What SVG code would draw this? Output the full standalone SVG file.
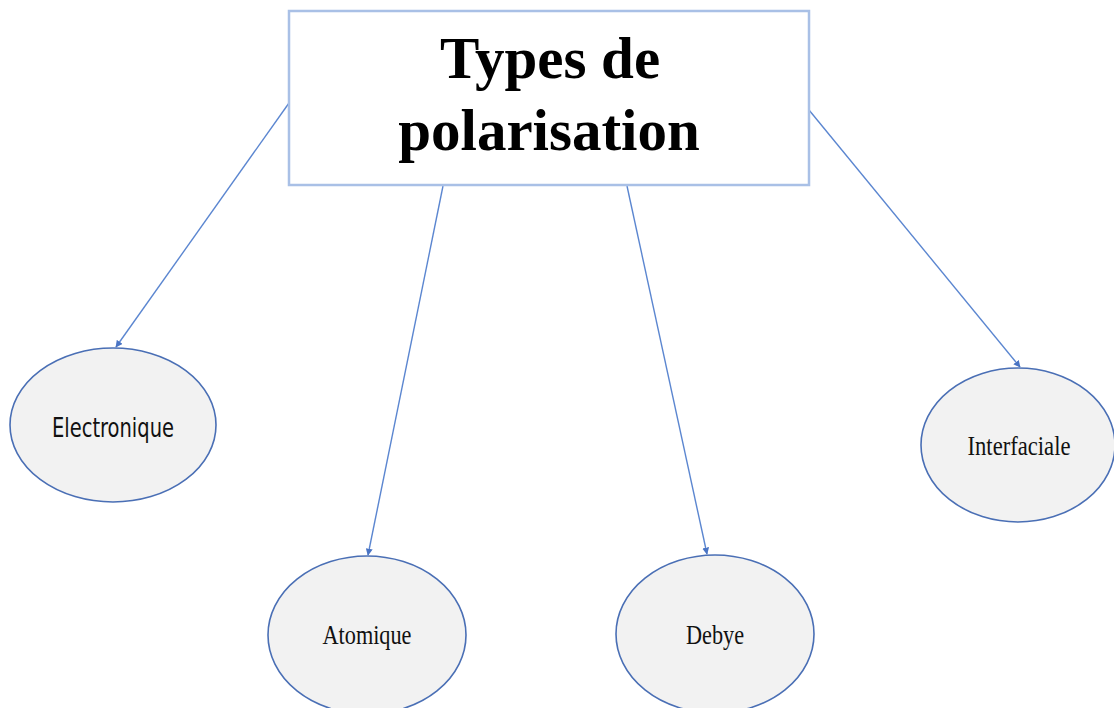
<svg xmlns="http://www.w3.org/2000/svg" width="1114" height="708" viewBox="0 0 1114 708">
<style>
.box{fill:#ffffff;stroke:#a9c0e6;stroke-width:2.5}
.title{font-family:"Liberation Serif",serif;font-weight:bold;font-size:59px;fill:#000;text-anchor:middle}
.ell{fill:#f2f2f2;stroke:#4a6fb5;stroke-width:1.6}
.lbl{font-family:"Liberation Serif",serif;font-size:28px;fill:#111;text-anchor:middle}
.lbls{font-family:"DejaVu Sans Condensed","DejaVu Sans",sans-serif;font-size:27px;fill:#111;text-anchor:middle}
.conn{stroke:#5b86d0;stroke-width:1.4;fill:none;marker-end:url(#ah)}
</style>
<defs>
<marker id="ah" viewBox="0 0 10 10" refX="9" refY="5" markerWidth="7" markerHeight="7" markerUnits="userSpaceOnUse" orient="auto">
<path d="M0,0 L10,5 L0,10 z" fill="#4a74c4"/>
</marker>
</defs>
<rect width="1114" height="708" fill="#ffffff"/>
<g id="connectors">
<line class="conn" x1="289" y1="103" x2="116" y2="347"/>
<line class="conn" x1="443" y1="186" x2="368" y2="555"/>
<line class="conn" x1="627" y1="186" x2="707" y2="554"/>
<line class="conn" x1="809" y1="110" x2="1020" y2="367"/>
</g>
<g id="root">
<rect class="box" x="289" y="11" width="520" height="174"/>
<text class="title" x="550" y="78">Types de</text>
<text class="title" x="549" y="150">polarisation</text>
</g>
<g id="electronique">
<ellipse class="ell" cx="113" cy="425" rx="103" ry="77"/>
<text class="lbls" x="113" y="437" textLength="122" lengthAdjust="spacingAndGlyphs">Electronique</text>
</g>
<g id="atomique">
<ellipse class="ell" cx="367" cy="635" rx="99" ry="79"/>
<text class="lbl" x="367" y="644" textLength="89" lengthAdjust="spacingAndGlyphs">Atomique</text>
</g>
<g id="debye">
<ellipse class="ell" cx="715" cy="634" rx="99" ry="79"/>
<text class="lbl" x="715" y="644" textLength="58" lengthAdjust="spacingAndGlyphs">Debye</text>
</g>
<g id="interfaciale">
<ellipse class="ell" cx="1018" cy="445" rx="97" ry="77"/>
<text class="lbl" x="1019" y="455" textLength="103" lengthAdjust="spacingAndGlyphs">Interfaciale</text>
</g>
</svg>
